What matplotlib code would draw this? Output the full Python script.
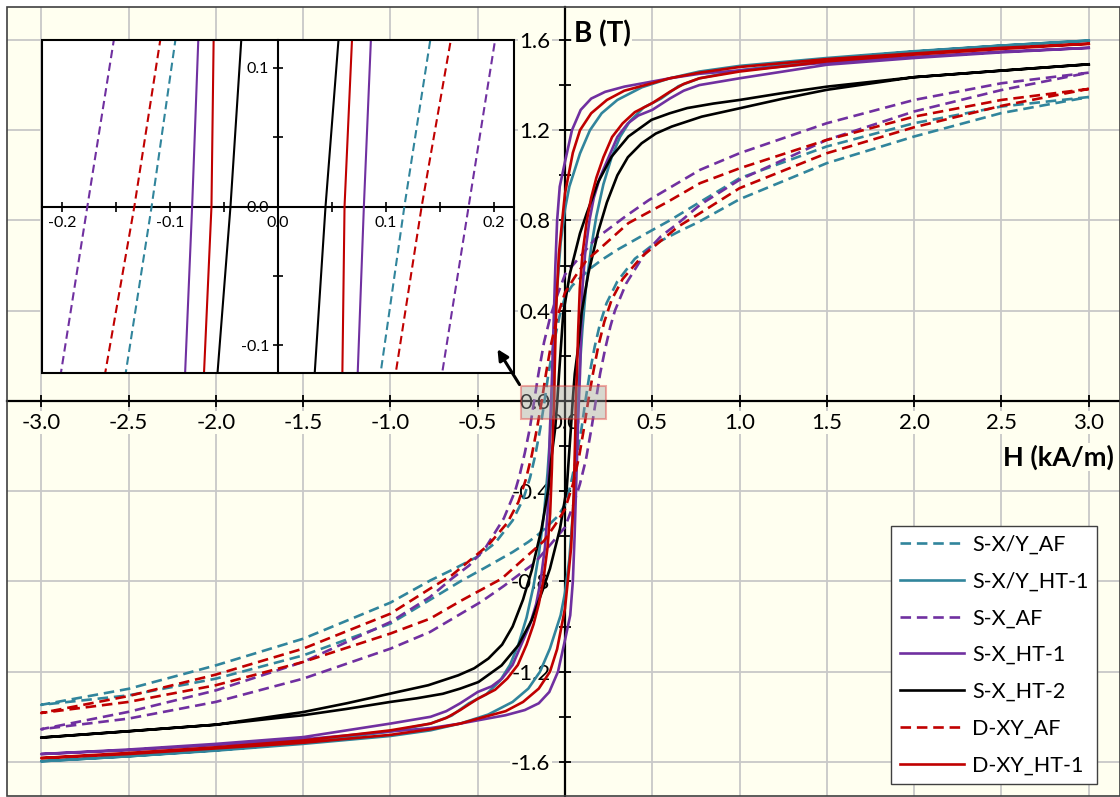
import matplotlib
matplotlib.use("Agg")
import matplotlib.pyplot as plt
from matplotlib.patches import Rectangle
from matplotlib.ticker import MultipleLocator, FormatStrFormatter

plt.rcParams['font.family'] = ['Lato', 'DejaVu Sans']
plt.rcParams['axes.unicode_minus'] = False

# H in kA/m, B in T
# "upper" = descending branch, from B=0 at H=-Hc up to H=3
# "lower" = ascending branch, from B=0 at H=+Hc up to H=3
# the loops are point-symmetric, so the rest is the mirror image

sxy_af_upper = [(-0.117, 0.0), (-0.095, 0.12), (-0.06, 0.27), (-0.03, 0.38), (0.0, 0.46),
                (0.04, 0.51), (0.08, 0.54), (0.15, 0.59), (0.21, 0.625), (0.3, 0.67),
                (0.46, 0.74), (0.6, 0.80), (0.77, 0.88), (1.0, 0.987), (1.5, 1.128),
                (2.0, 1.231), (2.5, 1.305), (3.0, 1.347)]
sxy_af_lower = [(0.117, 0.0), (0.141, 0.12), (0.17, 0.24), (0.2, 0.34), (0.238, 0.433),
                (0.3, 0.53), (0.4, 0.63), (0.5, 0.69), (0.65, 0.75), (0.77, 0.795),
                (1.0, 0.894), (1.5, 1.054), (2.0, 1.172), (2.5, 1.276), (3.0, 1.347)]

sxy_ht1_upper = [(-0.075, 0.0), (-0.07, 0.12), (-0.06, 0.3), (-0.045, 0.5), (-0.025, 0.7),
                 (0.0, 0.85), (0.025, 0.95), (0.05, 1.01), (0.086, 1.097), (0.143, 1.2),
                 (0.21, 1.275), (0.3, 1.334), (0.44, 1.39), (0.6, 1.43), (0.77, 1.46),
                 (1.0, 1.485), (1.5, 1.52), (2.0, 1.55), (2.5, 1.575), (3.0, 1.597)]
sxy_ht1_lower = [(0.075, 0.0), (0.085, 0.15), (0.1, 0.32), (0.12, 0.5), (0.15, 0.68),
                 (0.18, 0.82), (0.22, 0.96), (0.267, 1.08), (0.315, 1.17), (0.372, 1.24),
                 (0.45, 1.3), (0.55, 1.34), (0.65, 1.395), (0.77, 1.43), (1.0, 1.465),
                 (1.5, 1.515), (2.0, 1.548), (2.5, 1.575), (3.0, 1.597)]

sx_af_upper = [(-0.1765, 0.0), (-0.152, 0.12), (-0.12, 0.26), (-0.085, 0.37), (-0.048, 0.46),
               (0.0, 0.56), (0.076, 0.63), (0.176, 0.72), (0.229, 0.75), (0.35, 0.82),
               (0.48, 0.89), (0.773, 1.024), (1.0, 1.098), (1.5, 1.231), (2.0, 1.334),
               (2.5, 1.408), (3.0, 1.455)]
sx_af_lower = [(0.1765, 0.0), (0.201, 0.12), (0.23, 0.23), (0.26, 0.33), (0.286, 0.40),
               (0.35, 0.52), (0.458, 0.654), (0.55, 0.73), (0.649, 0.788), (0.773, 0.869),
               (1.0, 0.98), (1.5, 1.157), (2.0, 1.283), (2.5, 1.378), (3.0, 1.455)]

sx_ht1_upper = [(-0.0795, 0.0), (-0.0738, 0.12), (-0.065, 0.35), (-0.055, 0.6), (-0.045, 0.8),
                (-0.03, 0.95), (0.0, 1.06), (0.04, 1.2), (0.09, 1.29), (0.15, 1.34),
                (0.23, 1.37), (0.34, 1.393), (0.46, 1.41), (0.6, 1.43), (0.77, 1.45),
                (1.0, 1.465), (1.5, 1.50), (2.0, 1.525), (2.5, 1.548), (3.0, 1.565)]
sx_ht1_lower = [(0.08, 0.0), (0.086, 0.12), (0.092, 0.3), (0.1, 0.5), (0.115, 0.65),
                (0.14, 0.8), (0.165, 0.9), (0.2, 0.99), (0.25, 1.08), (0.3, 1.17),
                (0.36, 1.23), (0.42, 1.265), (0.5, 1.29), (0.6, 1.34), (0.68, 1.375),
                (0.77, 1.40), (1.0, 1.43), (1.5, 1.49), (2.0, 1.52), (2.5, 1.545),
                (3.0, 1.565)]

sx_ht2_upper = [(-0.044, 0.0), (-0.034, 0.12), (-0.025, 0.22), (-0.01, 0.388), (0.0286, 0.566),
                (0.086, 0.743), (0.124, 0.83), (0.19, 0.97), (0.267, 1.083), (0.363, 1.172),
                (0.496, 1.246), (0.6, 1.275), (0.7, 1.298), (0.85, 1.318), (1.0, 1.334),
                (1.25, 1.365), (1.5, 1.393), (2.0, 1.435), (2.5, 1.464), (3.0, 1.492)]
sx_ht2_lower = [(0.044, 0.0), (0.056, 0.12), (0.076, 0.24), (0.095, 0.39), (0.134, 0.566),
                (0.19, 0.75), (0.24, 0.88), (0.3, 1.0), (0.36, 1.08), (0.439, 1.142),
                (0.52, 1.185), (0.611, 1.216), (0.783, 1.26), (1.0, 1.297), (1.25, 1.34),
                (1.5, 1.379), (2.0, 1.435), (2.5, 1.464), (3.0, 1.492)]

dxy_af_upper = [(-0.133, 0.0), (-0.109, 0.12), (-0.08, 0.25), (-0.045, 0.37), (0.0, 0.48),
                (0.057, 0.55), (0.12, 0.62), (0.191, 0.669), (0.363, 0.788), (0.592, 0.884),
                (0.773, 0.965), (1.0, 1.031), (1.5, 1.157), (2.0, 1.26), (2.5, 1.334),
                (3.0, 1.383)]
dxy_af_lower = [(0.133, 0.0), (0.16, 0.12), (0.19, 0.24), (0.225, 0.35), (0.267, 0.448),
                (0.33, 0.54), (0.439, 0.639), (0.55, 0.71), (0.649, 0.773), (0.773, 0.832),
                (1.0, 0.943), (1.5, 1.098), (2.0, 1.213), (2.5, 1.308), (3.0, 1.383)]

dxy_ht1_upper = [(-0.0616, 0.0), (-0.0596, 0.12), (-0.05, 0.42), (-0.035, 0.65), (-0.016, 0.8),
                 (0.0, 0.92), (0.02, 1.0), (0.045, 1.1), (0.086, 1.2), (0.15, 1.275),
                 (0.24, 1.334), (0.34, 1.375), (0.46, 1.40), (0.6, 1.43), (0.77, 1.455),
                 (1.0, 1.48), (1.5, 1.515), (2.0, 1.54), (2.5, 1.565), (3.0, 1.583)]
dxy_ht1_lower = [(0.0623, 0.0), (0.0685, 0.12), (0.075, 0.3), (0.085, 0.5), (0.1, 0.65),
                 (0.125, 0.8), (0.15, 0.9), (0.18, 0.99), (0.22, 1.08), (0.27, 1.17),
                 (0.33, 1.23), (0.4, 1.28), (0.5, 1.32), (0.6, 1.37), (0.68, 1.405),
                 (0.77, 1.43), (1.0, 1.46), (1.5, 1.505), (2.0, 1.535), (2.5, 1.56),
                 (3.0, 1.583)]

names = ['S-X/Y_AF', 'S-X/Y_HT-1', 'S-X_AF', 'S-X_HT-1', 'S-X_HT-2', 'D-XY_AF', 'D-XY_HT-1']
uppers = [sxy_af_upper, sxy_ht1_upper, sx_af_upper, sx_ht1_upper, sx_ht2_upper, dxy_af_upper, dxy_ht1_upper]
lowers = [sxy_af_lower, sxy_ht1_lower, sx_af_lower, sx_ht1_lower, sx_ht2_lower, dxy_af_lower, dxy_ht1_lower]
colors = ['#31859C', '#31859C', '#7030A0', '#7030A0', '#000000', '#C00000', '#C00000']
dashed = [True, False, True, False, False, True, False]

x_ticks = [-3.0, -2.5, -2.0, -1.5, -1.0, -0.5, 0.0, 0.5, 1.0, 1.5, 2.0, 2.5, 3.0]
y_ticks = [-1.6, -1.2, -0.8, -0.4, 0.0, 0.4, 0.8, 1.2, 1.6]


def loop(upper, lower):
    # descending branch: H=3 -> -Hc -> -3, then ascending as its mirror
    dh = [p[0] for p in upper[::-1]] + [-p[0] for p in lower[1:]]
    db = [p[1] for p in upper[::-1]] + [-p[1] for p in lower[1:]]
    return dh + [-h for h in dh], db + [-b for b in db]


W, H = 1120, 797
fig = plt.figure(figsize=(W / 100, H / 100), dpi=100)
bg = '#FFFFF0'

# main axes: pixel box 7..1120 x 7..796
ax = fig.add_axes([7 / W, 1 / H, 1 - 7 / W, 789 / H])
ax.set_facecolor(bg)
ax.set_xlim(-3.196, 3.179)
ax.set_ylim(-1.751, 1.746)

for i in range(len(names)):
    hh, bb = loop(uppers[i], lowers[i])
    ls = (0, (4, 2.2)) if dashed[i] else '-'
    ax.plot(hh, bb, color=colors[i], lw=1.9, ls=ls, label=names[i], zorder=3,
            solid_joinstyle='round')

ax.spines['left'].set_position(('data', 0))
ax.spines['bottom'].set_position(('data', 0))
ax.spines['top'].set_visible(False)
ax.spines['right'].set_visible(False)
for s in ['left', 'bottom']:
    ax.spines[s].set_linewidth(1.6)
    ax.spines[s].set_zorder(2.5)
ax.add_patch(Rectangle((0, 0), 1, 1, transform=ax.transAxes, fill=False,
                       edgecolor='#404040', lw=1.2, clip_on=False, zorder=5))

ax.set_xticks(x_ticks)
ax.set_yticks(y_ticks)
ax.yaxis.set_minor_locator(MultipleLocator(0.2))
ax.xaxis.set_major_formatter(FormatStrFormatter('%.1f'))
ax.yaxis.set_major_formatter(FormatStrFormatter('%.1f'))
ax.tick_params(axis='both', which='both', direction='inout', length=9, width=1.3,
               labelsize=16)
ax.tick_params(axis='x', pad=4)
ax.tick_params(axis='y', pad=6)
ax.grid(True, which='major', color='#C8C8C8', lw=1.3, zorder=0)
for lbl in ax.get_xticklabels() + ax.get_yticklabels():
    lbl.set_bbox(dict(facecolor=bg, edgecolor='none', pad=1.0))

ax.text(0.05, 1.625, 'B (T)', fontsize=20, fontweight='bold', ha='left', va='center',
        zorder=5, bbox=dict(facecolor=bg, edgecolor='none', pad=1.0))
ax.text(2.51, -0.25, 'H (kA/m)', fontsize=19.5, fontweight='bold', ha='left', va='center',
        zorder=5, bbox=dict(facecolor=bg, edgecolor='none', pad=1.0))

# zoom box
ax.add_patch(Rectangle((-0.25, -0.08), 0.485, 0.146, facecolor='#9E9E9E', alpha=0.4,
                       edgecolor='#E03030', lw=1.5, zorder=4))

leg = ax.legend(loc='lower right', bbox_to_anchor=(1097 / W, 13 / H),
                bbox_transform=fig.transFigure, fontsize=15.5, frameon=True,
                fancybox=False, framealpha=1, edgecolor='#404040', handlelength=3.0,
                handletextpad=0.35, labelspacing=0.78, borderpad=0.4, borderaxespad=0)
leg.get_frame().set_linewidth(1.0)
leg.set_zorder(7)

# inset: pixel box 42..514 x 40..373
axi = fig.add_axes([42 / W, 1 - 373 / H, 472 / W, 333 / H])
axi.set_facecolor('white')
axi.set_xlim(-0.2185, 0.2185)
axi.set_ylim(-0.12, 0.12)
for i in range(len(names)):
    if names[i] == 'S-X/Y_HT-1':
        continue  # not shown in the inset
    hh, bb = loop(uppers[i], lowers[i])
    ls = (0, (4, 2.2)) if dashed[i] else '-'
    axi.plot(hh, bb, color=colors[i], lw=1.5, ls=ls, zorder=3)

axi.spines['left'].set_position(('data', 0))
axi.spines['bottom'].set_position(('data', 0))
axi.spines['top'].set_visible(False)
axi.spines['right'].set_visible(False)
for s in ['left', 'bottom']:
    axi.spines[s].set_linewidth(1.5)
axi.add_patch(Rectangle((0, 0), 1, 1, transform=axi.transAxes, fill=False,
                        edgecolor='black', lw=1.5, clip_on=False, zorder=5))
axi.set_xticks([-0.2, -0.1, 0.0, 0.1, 0.2])
axi.set_yticks([-0.1, 0.0, 0.1])
axi.xaxis.set_minor_locator(MultipleLocator(0.05))
axi.yaxis.set_minor_locator(MultipleLocator(0.05))
axi.xaxis.set_major_formatter(FormatStrFormatter('%.1f'))
axi.yaxis.set_major_formatter(FormatStrFormatter('%.1f'))
axi.tick_params(axis='both', which='both', direction='inout', length=7, width=1.2,
                labelsize=11.5)
axi.tick_params(axis='x', pad=3)
axi.tick_params(axis='y', pad=3)

# arrow from the zoom box to the inset, drawn on top of the inset
axi.annotate('', xy=(-0.395, 0.24), xycoords=ax.transData,
             xytext=(-0.252, 0.062), textcoords=ax.transData, annotation_clip=False,
             arrowprops=dict(arrowstyle='-|>', color='black', lw=2.2, mutation_scale=16))

fig.savefig('out.png', dpi=100, facecolor='white')
